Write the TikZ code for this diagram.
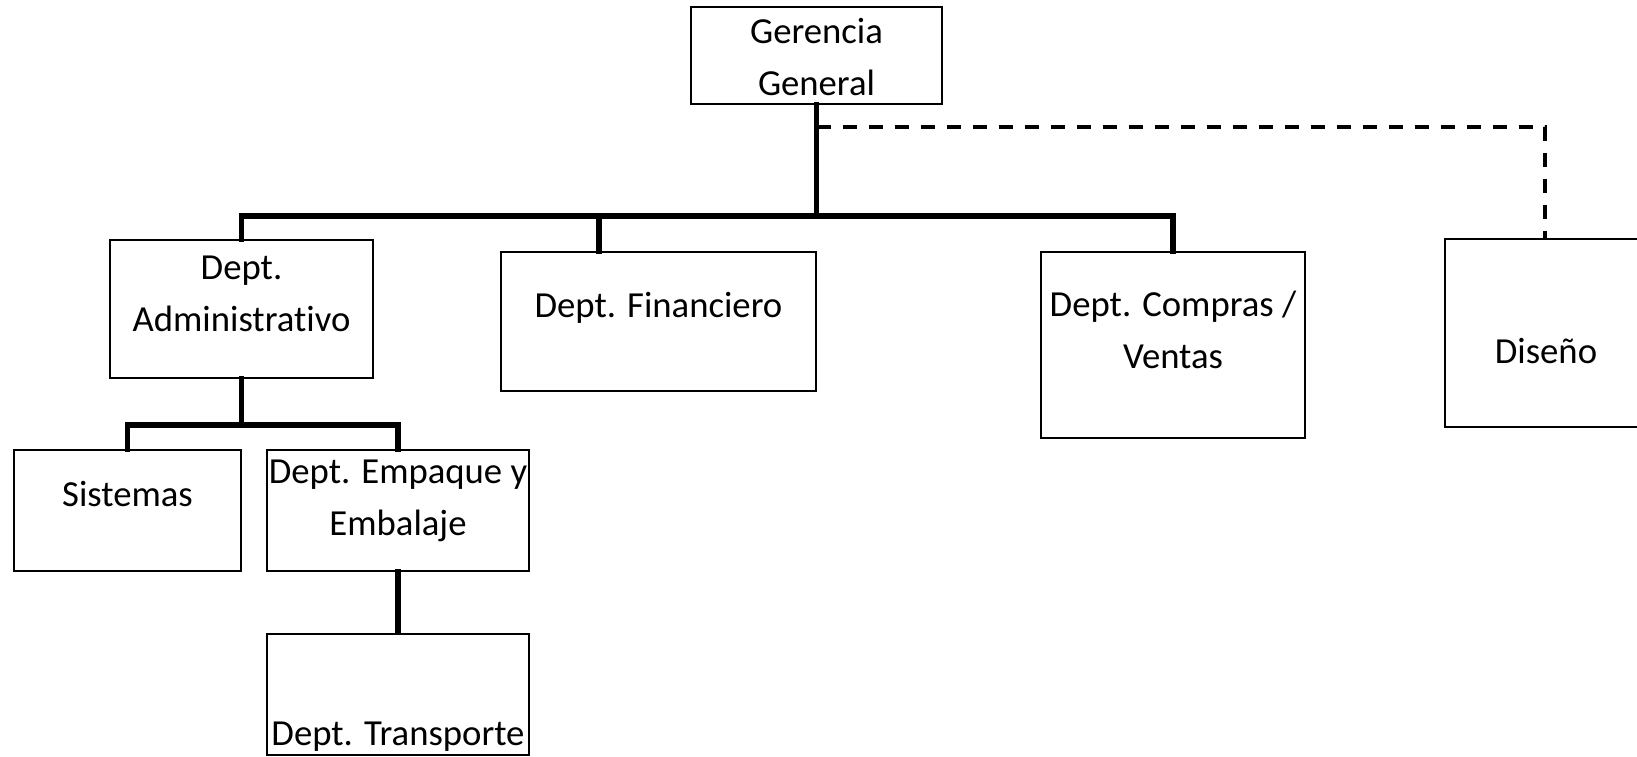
\documentclass[tikz,border=0pt]{standalone}
\usepackage{fontspec}
\setmainfont{Carlito}[RawFeature={-liga;-clig;-calt;-dlig}]
\begin{document}
\begin{tikzpicture}[x=1pt,y=1pt,
  box/.style={draw=black,line width=2pt,rectangle,inner sep=0pt,fill=white},
  txt/.style={inner sep=0pt,align=center,font=\fontsize{36.7}{52}\selectfont},
  conn/.style={line width=5.5pt,line cap=rect},
  dconn/.style={line width=4pt,dash pattern=on 14pt off 12pt}]
\useasboundingbox (0,0) rectangle (1637,-756);
\fill[white] (0,0) rectangle (1637,-756);
% boxes
\node[box,minimum width=251pt,minimum height=97pt] (ger) at (816.5,-55.5) {};
\node[box,minimum width=263pt,minimum height=138pt] (adm) at (241.5,-309) {};
\node[box,minimum width=315pt,minimum height=139pt] (fin) at (658.5,-321.5) {};
\node[box,minimum width=264pt,minimum height=186pt] (com) at (1173,-345) {};
\node[box,minimum width=200pt,minimum height=188pt] (dis) at (1545,-333) {};
\node[box,minimum width=227pt,minimum height=121pt] (sis) at (127.5,-510.5) {};
\node[box,minimum width=262pt,minimum height=121pt] (emp) at (398,-510.5) {};
\node[box,minimum width=262pt,minimum height=121pt] (tra) at (398,-694) {};
% texts
\node[txt] (tger) at (816.5,-57.5) {Gerencia\\General};
\node[txt] (tadm) at (241.5,-294) {Dept.\\Administrat\kern0pt ivo};
\node[txt] (tfin) at (658.5,-308) {Dept. Financiero};
\node[txt] (tcom) at (1173,-330) {Dept. Compras /\\Ventas};
\node[txt] (tdis) at (1546,-351) {Diseño};
\node[txt] (tsis) at (127.5,-494) {Sistemas};
\node[txt] (temp) at (398,-501) {Dept. Empaque y\\Embalaje};
\node[txt] (ttra) at (398,-737) {Dept. Transporte};
% connectors
\coordinate (bar) at (0,-216);
\coordinate (bar2) at (0,-425);
\coordinate (dsh) at (0,-127);
\coordinate (finc) at ([xshift=99pt]fin.north west);
\draw[conn] (ger.south) -- (ger.south |- bar);
\draw[conn] (adm.north) -- (adm.north |- bar) -- (com.north |- bar) -- (com.north);
\draw[conn] (finc |- bar) -- (finc);
\draw[dconn] (ger.south |- dsh) -- (dis.north |- dsh) -- (dis.north);
\draw[conn] (adm.south) -- (adm.south |- bar2);
\draw[conn] (sis.north) -- (sis.north |- bar2) -- (emp.north |- bar2) -- (emp.north);
\draw[conn] (emp.south) -- (tra.north);
\end{tikzpicture}
\end{document}
